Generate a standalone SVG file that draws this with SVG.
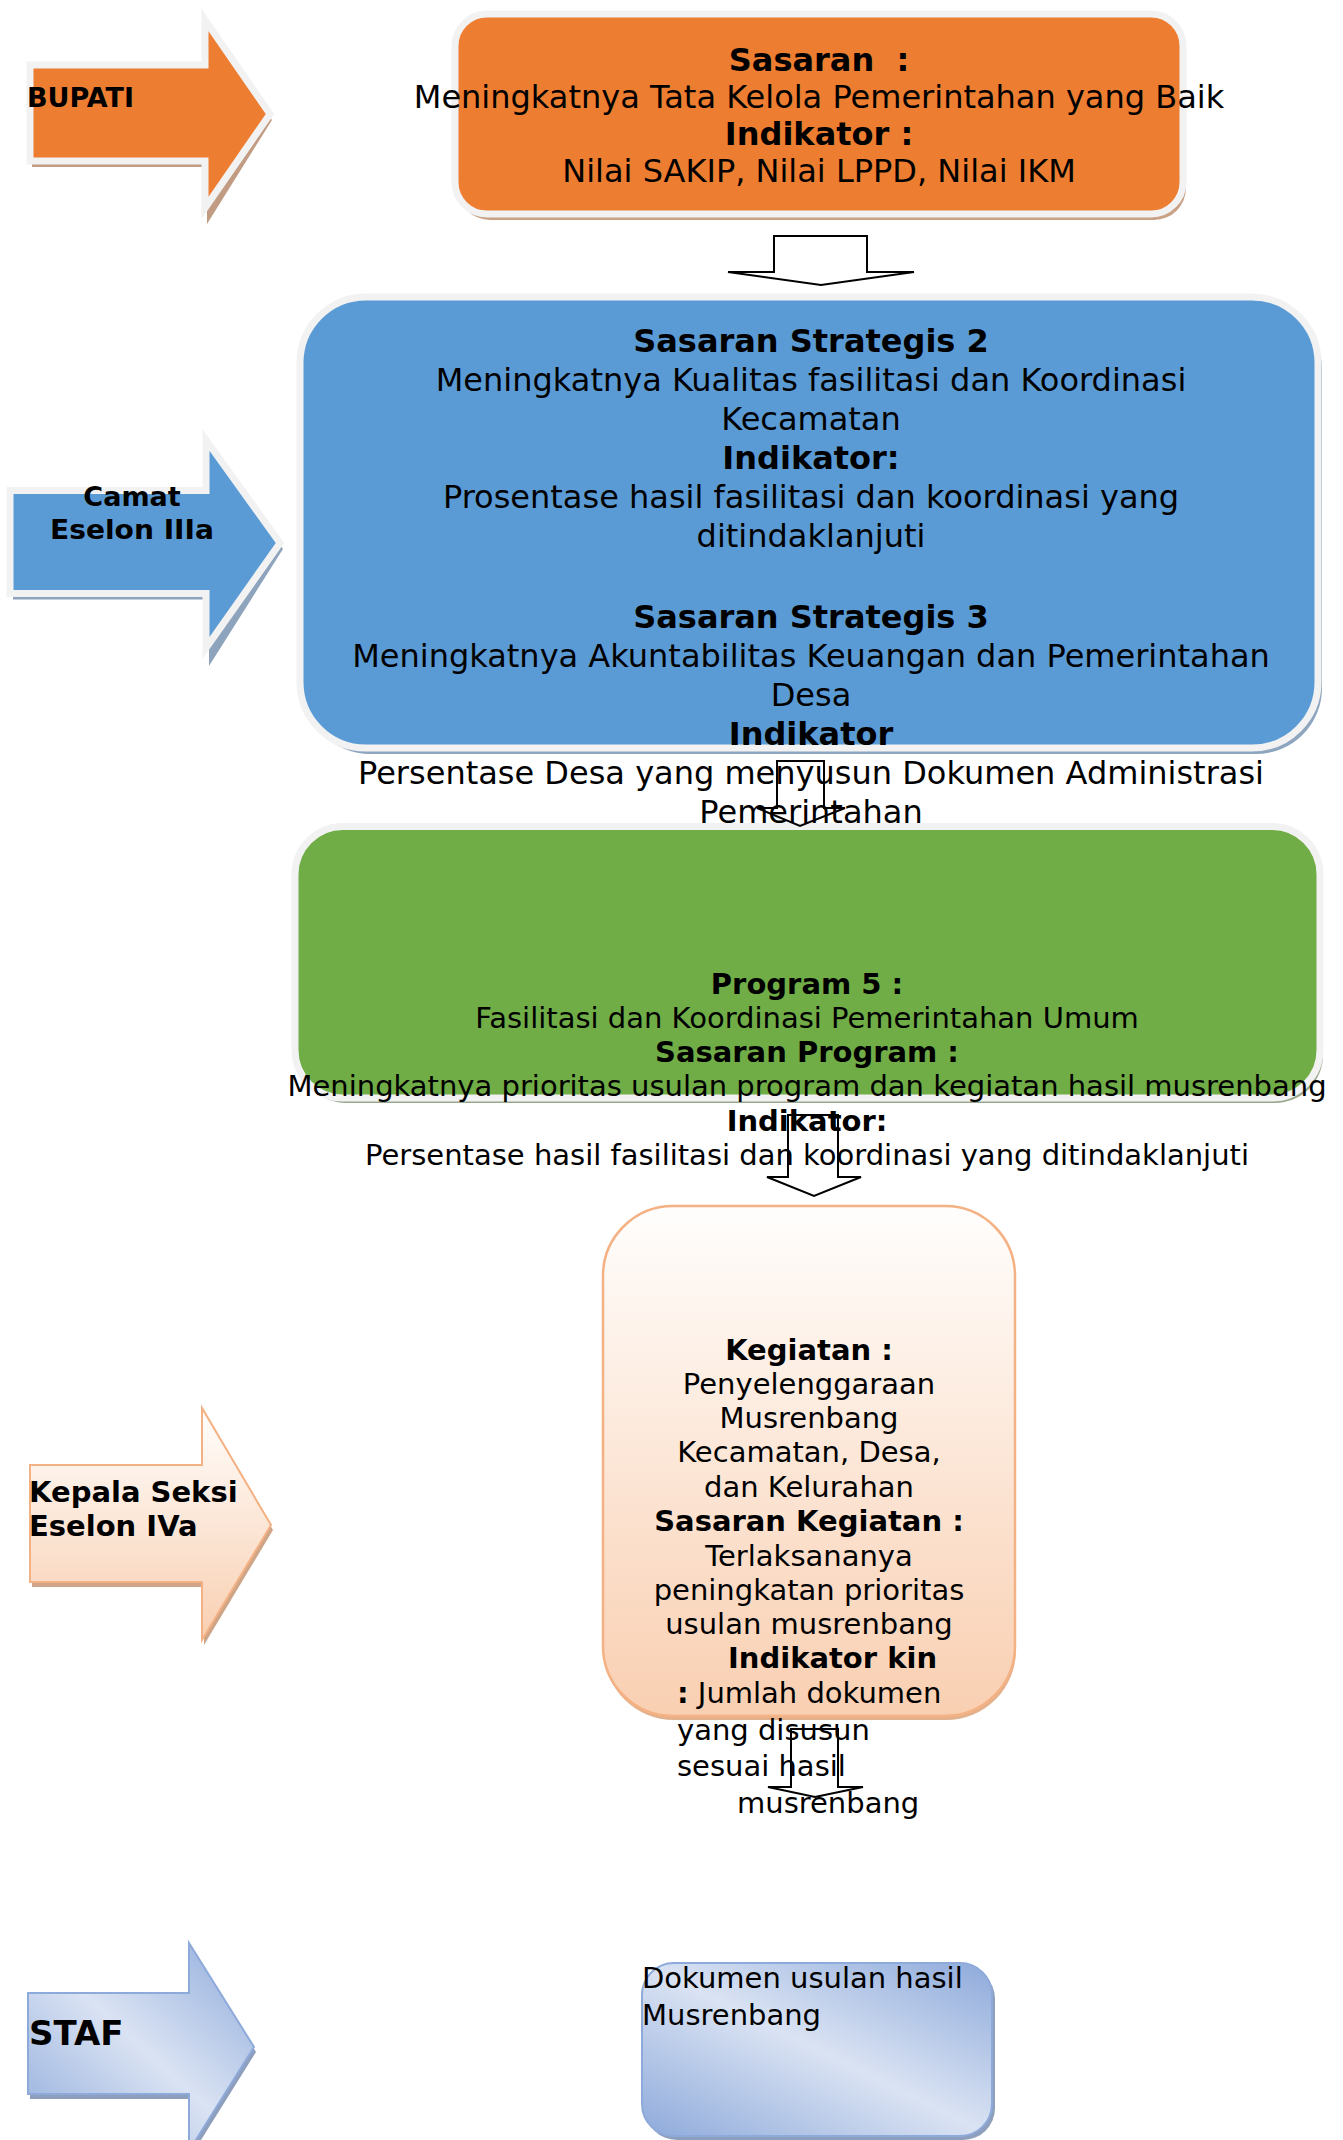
<svg xmlns="http://www.w3.org/2000/svg" width="1343" height="2140" viewBox="0 0 1343 2140">
<defs>
<linearGradient id="peach" x1="0" y1="0" x2="0" y2="1">
<stop offset="0" stop-color="#fffefd"/>
<stop offset="1" stop-color="#f9cfb1"/>
</linearGradient>
<linearGradient id="blueDiag" x1="1" y1="0" x2="0" y2="1">
<stop offset="0" stop-color="#8eaadb"/>
<stop offset="0.5" stop-color="#dae3f3"/>
<stop offset="1" stop-color="#8eaadb"/>
</linearGradient>
<style>
text{font-family:"DejaVu Sans","Liberation Sans",sans-serif;fill:#000}
.c{text-anchor:middle}
.b{font-weight:bold}
.f32{font-size:32px}
.f29{font-size:29px}
.f27{font-size:27px}
.wb{stroke:#f2f2f2;stroke-width:7;stroke-linejoin:miter;stroke-miterlimit:10}
.conn{fill:none;stroke:#000;stroke-width:2;stroke-linejoin:miter}
</style>
</defs>
<rect width="1343" height="2140" fill="#fff"/>

<g id="bupati">
<polygon points="30,65 205,65 205,20 270,114 205,218 205,161 30,161" transform="translate(2,6)" fill="#c29c82"/>
<polygon class="wb" points="30,65 205,65 205,20 270,114 205,208 205,161 30,161" fill="#ed7d31"/>
<text class="b f27" x="27" y="107">BUPATI</text>
</g>

<g id="sasaran">
<rect x="455" y="14" width="728" height="200" rx="32" transform="translate(3,6)" fill="#c9a286"/>
<rect class="wb" x="455" y="14" width="728" height="200" rx="32" fill="#ed7d31"/>
<text class="c f32" x="819" y="71"><tspan class="b">Sasaran&#160; :</tspan></text>
<text class="c f32" x="819" y="108">Meningkatnya Tata Kelola Pemerintahan yang Baik</text>
<text class="c f32 b" x="819" y="145">Indikator :</text>
<text class="c f32" x="819" y="182">Nilai SAKIP, Nilai LPPD, Nilai IKM</text>
</g>

<g id="camat">
<polygon points="10,490.5 206,490.5 206,440 280,543 206,660 206,593.5 10,593.5" transform="translate(3,6)" fill="#8da4bc"/>
<polygon class="wb" points="10,490.5 206,490.5 206,440 280,543 206,648 206,593.5 10,593.5" fill="#5b9bd5"/>
<text class="c b f27" x="132" y="506">Camat</text>
<text class="c b f27" x="132" y="539" textLength="164" lengthAdjust="spacingAndGlyphs">Eselon IIIa</text>
</g>

<g id="strategis">
<rect x="300" y="297" width="1018" height="451" rx="66" transform="translate(4,6)" fill="#8ea5bf"/>
<rect class="wb" x="300" y="297" width="1018" height="451" rx="66" fill="#5b9bd5"/>
<text class="c b f32" x="811" y="352">Sasaran Strategis 2</text>
<text class="c f32" x="811" y="391">Meningkatnya Kualitas fasilitasi dan Koordinasi</text>
<text class="c f32" x="811" y="430">Kecamatan</text>
<text class="c b f32" x="811" y="469">Indikator:</text>
<text class="c f32" x="811" y="508">Prosentase hasil fasilitasi dan koordinasi yang</text>
<text class="c f32" x="811" y="547">ditindaklanjuti</text>
<text class="c b f32" x="811" y="628">Sasaran Strategis 3</text>
<text class="c f32" x="811" y="667">Meningkatnya Akuntabilitas Keuangan dan Pemerintahan</text>
<text class="c f32" x="811" y="706">Desa</text>
<text class="c b f32" x="811" y="745">Indikator</text>
<text class="c f32" x="811" y="784">Persentase Desa yang menyusun Dokumen Administrasi</text>
<text class="c f32" x="811" y="823">Pemerintahan</text>
</g>

<g id="program">
<rect x="295" y="826.5" width="1025" height="271.5" rx="48" transform="translate(3,5)" fill="#98a88d"/>
<rect class="wb" x="295" y="826.5" width="1025" height="271.5" rx="48" fill="#70ad47"/>
<text class="c b f29" x="807" y="994">Program 5 :</text>
<text class="c f29" x="807" y="1028">Fasilitasi dan Koordinasi Pemerintahan Umum</text>
<text class="c b f29" x="807" y="1062">Sasaran Program :</text>
<text class="c f29" x="807" y="1096">Meningkatnya prioritas usulan program dan kegiatan hasil musrenbang</text>
<text class="c b f29" x="807" y="1131">Indikator:</text>
<text class="c f29" x="807" y="1165">Persentase hasil fasilitasi dan koordinasi yang ditindaklanjuti</text>
</g>

<g id="kepala">
<polygon points="30,1465 202,1465 202,1408 271,1525 202,1640 202,1582 30,1582" transform="translate(2,5)" fill="#cfa587"/>
<polygon points="30,1465 202,1465 202,1408 271,1525 202,1640 202,1582 30,1582" fill="url(#peach)" stroke="#f4b183" stroke-width="2"/>
<text class="b f29" x="29" y="1502">Kepala Seksi</text>
<text class="b f29" x="29" y="1536">Eselon IVa</text>
</g>

<g id="kegiatan">
<rect x="603" y="1206" width="412" height="510" rx="70" transform="translate(1,4)" fill="#e2b18c"/>
<rect x="603" y="1206" width="412" height="510" rx="70" fill="url(#peach)" stroke="#f4b183" stroke-width="2.5"/>
<text class="c b f29" x="809" y="1360">Kegiatan :</text>
<text class="c f29" x="809" y="1394">Penyelenggaraan</text>
<text class="c f29" x="809" y="1428">Musrenbang</text>
<text class="c f29" x="809" y="1462">Kecamatan, Desa,</text>
<text class="c f29" x="809" y="1497">dan Kelurahan</text>
<text class="c b f29" x="809" y="1531">Sasaran Kegiatan :</text>
<text class="c f29" x="809" y="1566">Terlaksananya</text>
<text class="c f29" x="809" y="1600">peningkatan prioritas</text>
<text class="c f29" x="809" y="1634">usulan musrenbang</text>
<text class="b f29" x="728" y="1668">Indikator kin</text>
<text class="f29" x="677" y="1703"><tspan class="b">:</tspan> Jumlah dokumen</text>
<text class="f29" x="677" y="1740">yang disusun</text>
<text class="f29" x="677" y="1776">sesuai hasil</text>
<text class="f29" x="737" y="1813">musrenbang</text>
</g>

<g id="staf">
<polygon points="28,1993 189,1993 189,1943 254,2047 189,2151 189,2094 28,2094" transform="translate(2,5)" fill="#8e9fbe"/>
<polygon points="28,1993 189,1993 189,1943 254,2047 189,2151 189,2094 28,2094" fill="url(#blueDiag)" stroke="#8eaadb" stroke-width="2"/>
<text class="b" x="29" y="2045" font-size="34">STAF</text>
</g>

<g id="dokumen">
<rect x="642" y="1963" width="350" height="173" rx="32" transform="translate(3,4)" fill="#8e9fbe"/>
<rect x="642" y="1963" width="350" height="173" rx="32" fill="url(#blueDiag)" stroke="#8eaadb" stroke-width="2"/>
<text class="f29" x="642" y="1988">Dokumen usulan hasil</text>
<text class="f29" x="642" y="2025">Musrenbang</text>
</g>

<g id="connectors">
<polygon class="conn" points="774,272 774,236 867,236 867,272 914,272 821,285 728,272"/>
<polygon class="conn" points="777,808 777,761 824,761 824,808 845,808 800,826 757,808" stroke-width="1.6"/>
<polygon class="conn" points="788,1177 788,1115 838,1115 838,1177 861,1177 814,1196 767,1177" stroke-width="1.6"/>
<polygon class="conn" points="791,1787 791,1729 838,1729 838,1787 863,1787 815,1797 768,1787" stroke-width="1.6"/>
</g>
</svg>
